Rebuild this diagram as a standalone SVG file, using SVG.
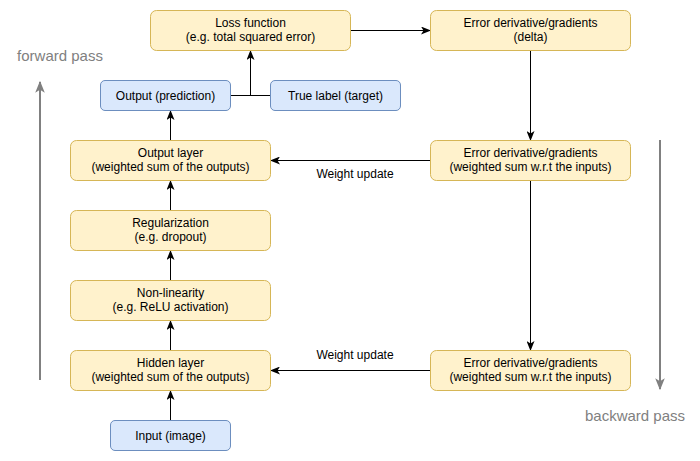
<svg xmlns="http://www.w3.org/2000/svg" width="700" height="461" viewBox="0 0 700 461">
<style>
.y{fill:#fff2cc;stroke:#d6b656;stroke-width:1}
.b{fill:#dae8fc;stroke:#6c8ebf;stroke-width:1}
text{font-family:"Liberation Sans",Arial,sans-serif;font-size:12px;fill:#000;text-anchor:middle}
.e{fill:none;stroke:#000;stroke-width:1}
.g{fill:none;stroke:#808080;stroke-width:2}
.lbl{font-size:15px;fill:#808080}
</style>
<defs>
<marker id="a" viewBox="0 0 10 8" refX="9" refY="4" markerWidth="10" markerHeight="8" markerUnits="userSpaceOnUse" orient="auto">
<path d="M0,0 L10,4 L0,8 L2.5,4 z" fill="#000"/>
</marker>
<marker id="ag" viewBox="0 0 10 8" refX="9" refY="4" markerWidth="12" markerHeight="10" markerUnits="userSpaceOnUse" orient="auto">
<path d="M0,0 L10,4 L0,8 L2.5,4 z" fill="#808080"/>
</marker>
</defs>
<g id="edges">
<path class="e" d="M230.5,95.5 H270.5"/>
<path class="e" d="M250.5,95.5 V51" marker-end="url(#a)"/>
<path class="e" d="M350.5,30.5 H430" marker-end="url(#a)"/>
<path class="e" d="M530.5,50.5 V140" marker-end="url(#a)"/>
<path class="e" d="M530.5,180.5 V350" marker-end="url(#a)"/>
<path class="e" d="M430.5,160.5 H271" marker-end="url(#a)"/>
<path class="e" d="M430.5,370.5 H271" marker-end="url(#a)"/>
<path class="e" d="M170.5,140.5 V111" marker-end="url(#a)"/>
<path class="e" d="M170.5,210.5 V181" marker-end="url(#a)"/>
<path class="e" d="M170.5,280.5 V251" marker-end="url(#a)"/>
<path class="e" d="M170.5,350.5 V321" marker-end="url(#a)"/>
<path class="e" d="M170.5,420.5 V391" marker-end="url(#a)"/>
<text x="355" y="178">Weight update</text>
<text x="355" y="358.5">Weight update</text>
<path class="g" d="M40,380 V82" marker-end="url(#ag)"/>
<path class="g" d="M660,140 V389" marker-end="url(#ag)"/>
</g>
<text class="lbl" x="60" y="61">forward pass</text>
<text class="lbl" x="635" y="421">backward pass</text>
<g id="loss"><rect class="y" x="150.5" y="10.5" width="200" height="40" rx="6"/><text x="250.5" y="26.5">Loss function</text><text x="250.5" y="41">(e.g. total squared error)</text></g>
<g id="delta"><rect class="y" x="430.5" y="10.5" width="200" height="40" rx="6"/><text x="530.5" y="26.5">Error derivative/gradients</text><text x="530.5" y="41">(delta)</text></g>
<g id="pred"><rect class="b" x="100.5" y="80.5" width="130" height="30" rx="4.5"/><text x="165.5" y="99.5">Output (prediction)</text></g>
<g id="target"><rect class="b" x="270.5" y="80.5" width="130" height="30" rx="4.5"/><text x="335.5" y="99.5">True label (target)</text></g>
<g id="outlayer"><rect class="y" x="70.5" y="140.5" width="200" height="40" rx="6"/><text x="170.5" y="156.5">Output layer</text><text x="170.5" y="171">(weighted sum of the outputs)</text></g>
<g id="err1"><rect class="y" x="430.5" y="140.5" width="200" height="40" rx="6"/><text x="530.5" y="156.5">Error derivative/gradients</text><text x="530.5" y="171">(weighted sum w.r.t the inputs)</text></g>
<g id="reg"><rect class="y" x="70.5" y="210.5" width="200" height="40" rx="6"/><text x="170.5" y="226.5">Regularization</text><text x="170.5" y="241">(e.g. dropout)</text></g>
<g id="nonlin"><rect class="y" x="70.5" y="280.5" width="200" height="40" rx="6"/><text x="170.5" y="296.5">Non-linearity</text><text x="170.5" y="311">(e.g. ReLU activation)</text></g>
<g id="hidden"><rect class="y" x="70.5" y="350.5" width="200" height="40" rx="6"/><text x="170.5" y="366.5">Hidden layer</text><text x="170.5" y="381">(weighted sum of the outputs)</text></g>
<g id="err2"><rect class="y" x="430.5" y="350.5" width="200" height="40" rx="6"/><text x="530.5" y="366.5">Error derivative/gradients</text><text x="530.5" y="381">(weighted sum w.r.t the inputs)</text></g>
<g id="input"><rect class="b" x="110.5" y="420.5" width="120" height="30" rx="4.5"/><text x="170.5" y="439.5">Input (image)</text></g>
</svg>
